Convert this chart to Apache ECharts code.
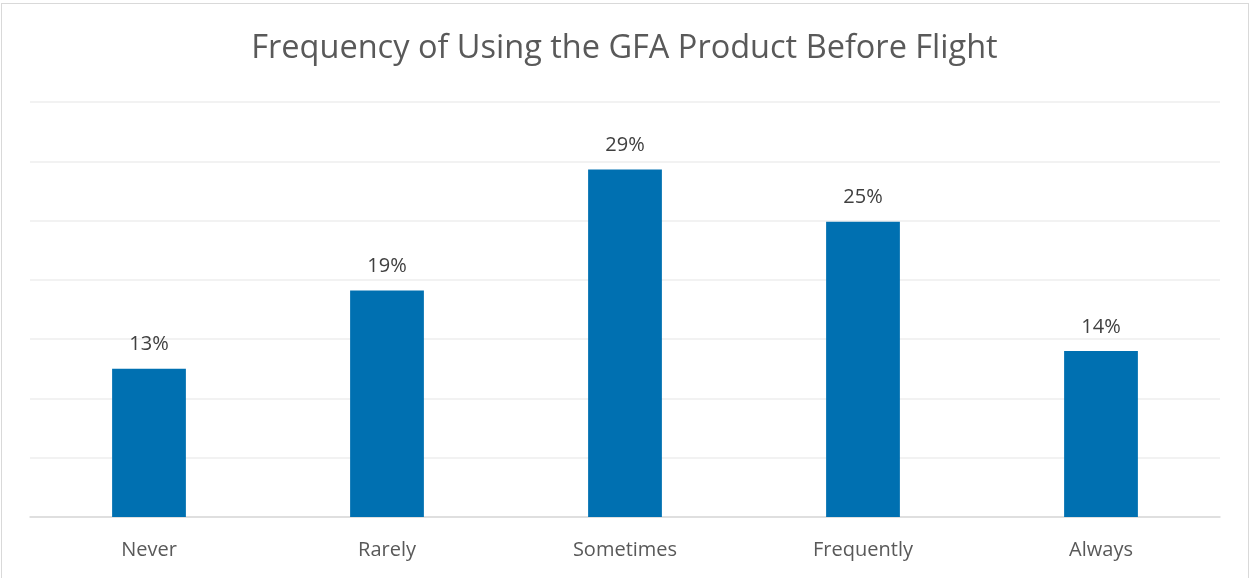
<!DOCTYPE html>
<html>
<head>
<meta charset="utf-8">
<script src="https://cdn.jsdelivr.net/npm/echarts@6/dist/echarts.min.js"></script>
<style>
    html, body { margin: 0; padding: 0; background: #fff; }
    #main { position: absolute; left: 0; top: 0; width: 1249px; height: 578px; }
    .frame {
        position: absolute; left: 1px; top: 3px; width: 1246px; height: 600px;
        border: 1px solid #d9d9d9; pointer-events: none;
    }
</style>
</head>
<body>
<div id="main"></div>
<div class="frame"></div>
<script>
    // 数据
    var categories = ['Never', 'Rarely', 'Sometimes', 'Frequently', 'Always'];
    var shares = [12.5, 19.1, 29.3, 24.9, 14.0];
    var yTicks = [0, 5, 10, 15, 20, 25, 30, 35];

    var font = '"Open Sans", "Noto Sans", sans-serif';
    var myChart = echarts.init(document.getElementById('main'));
    myChart.setOption({
        animation: false,
        title: {
            text: 'Frequency of Using the GFA Product Before Flight',
            left: 'center',
            top: 27,
            textStyle: { fontFamily: font, fontSize: 32.5, fontWeight: 'normal', color: '#595959' }
        },
        grid: { left: 30, right: 29, top: 102, bottom: 61 },
        xAxis: {
            type: 'category',
            data: categories,
            axisLine: { lineStyle: { color: '#d9d9d9', width: 1.5 } },
            axisTick: { show: false },
            axisLabel: { margin: 23, fontFamily: font, fontSize: 20, color: '#595959' }
        },
        yAxis: {
            type: 'value',
            min: yTicks[0],
            max: yTicks[yTicks.length - 1],
            interval: 5,
            axisLabel: { show: false },
            axisLine: { show: false },
            axisTick: { show: false },
            splitLine: { lineStyle: { color: '#eeeeee', width: 1.5 } }
        },
        series: [{
            type: 'bar',
            data: shares,
            barWidth: '31%',
            itemStyle: { color: '#0070b1' },
            label: {
                show: true,
                position: 'top',
                distance: 14,
                fontFamily: font,
                fontSize: 20,
                color: '#404040',
                formatter: function (p) { return Math.round(p.value) + '%'; }
            }
        }]
    });
</script>
</body>
</html>
